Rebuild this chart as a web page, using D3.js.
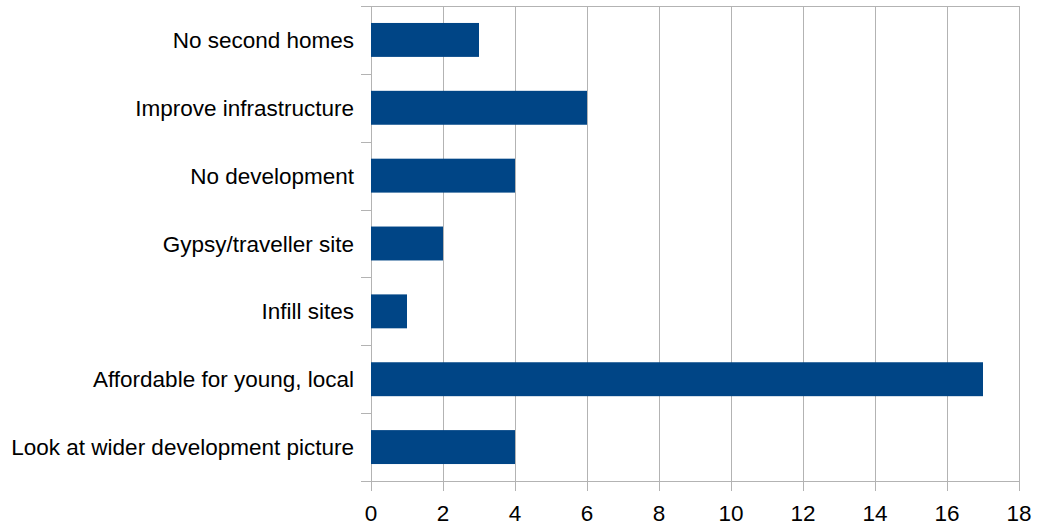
<!DOCTYPE html>
<html><head><meta charset="utf-8">
<script src="https://cdn.jsdelivr.net/npm/d3@7"></script>
<style>body{margin:0;background:#fff}svg{display:block}</style>
</head><body>
<svg id="chart" width="1037" height="527"></svg>
<script>
const categories = ["No second homes","Improve infrastructure","No development","Gypsy/traveller site","Infill sites","Affordable for young, local","Look at wider development picture"];
const values = [3,6,4,2,1,17,4];
const xTicks = [0,2,4,6,8,10,12,14,16,18];

const svg = d3.select("#chart");
const pLeft = 371, pRight = 1019, pTop = 6, pBottom = 481;
const x = d3.scaleLinear().domain([0,18]).range([pLeft,pRight]);
const y = d3.scaleBand().domain(categories).range([pTop,pBottom]).paddingInner(0.5).paddingOuter(0.25);
const grid = "#b3b3b3";
const font = "'Liberation Sans', Arial, sans-serif";
const fs = 22.5;

// gridlines
svg.append("g").selectAll("line").data(xTicks).join("line")
  .attr("x1",d=>x(d)+0.5).attr("x2",d=>x(d)+0.5)
  .attr("y1",pTop).attr("y2",pBottom+10)
  .attr("stroke",grid).attr("stroke-width",1);

// horizontal lines (category boundaries ticks + top/bottom)
const bounds = d3.range(categories.length+1).map(i=> pTop + i*(pBottom-pTop)/categories.length);
svg.append("g").selectAll("line").data(bounds).join("line")
  .attr("x1",pLeft-10).attr("x2",(d,i)=> (i===0||i===categories.length)? pRight : pLeft)
  .attr("y1",d=>Math.round(d)+0.5).attr("y2",d=>Math.round(d)+0.5)
  .attr("stroke",grid).attr("stroke-width",1);

// bars
svg.append("g").selectAll("rect").data(values).join("rect")
  .attr("x",x(0)).attr("y",(d,i)=>y(categories[i]))
  .attr("width",d=>x(d)-x(0)).attr("height",y.bandwidth())
  .attr("fill","#004586");

// x tick labels
svg.append("g").selectAll("text").data(xTicks).join("text")
  .attr("x",d=>x(d)).attr("y",521)
  .attr("text-anchor","middle").attr("font-family",font).attr("font-size",fs)
  .attr("fill","#000").text(d=>d);

// category labels
svg.append("g").selectAll("text").data(categories).join("text")
  .attr("x",354).attr("y",d=>y(d)+y.bandwidth()/2)
  .attr("dy","0.36em")
  .attr("text-anchor","end").attr("font-family",font).attr("font-size",fs)
  .attr("fill","#000").text(d=>d);
</script>
</body></html>
